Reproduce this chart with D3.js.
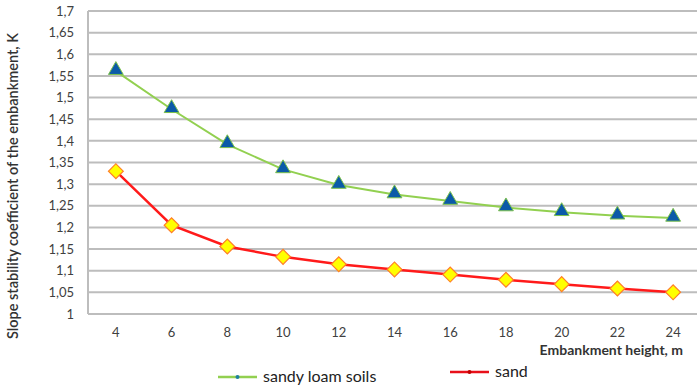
<!DOCTYPE html>
<html>
<head>
<meta charset="utf-8">
<script src="https://cdn.jsdelivr.net/npm/d3@7"></script>
<style>
  body { margin: 0; background: #fff; }
  svg text { font-family: Lato, "Open Sans", sans-serif; }
</style>
</head>
<body>
<svg id="chart" width="697" height="389"></svg>
<script>
// embankment heights, m
const heights = [4, 6, 8, 10, 12, 14, 16, 18, 20, 22, 24];
const sandyLoam = [1.561, 1.473, 1.392, 1.334, 1.298, 1.276, 1.261, 1.246, 1.235, 1.227, 1.222];
const sand = [1.330, 1.205, 1.156, 1.132, 1.115, 1.103, 1.091, 1.079, 1.069, 1.059, 1.050];
const yTicks = [1, 1.05, 1.1, 1.15, 1.2, 1.25, 1.3, 1.35, 1.4, 1.45, 1.5, 1.55, 1.6, 1.65, 1.7];

const svg = d3.select("#chart");
const margin = {top: 11, right: -4, bottom: 75, left: 88};
const width = 697, height = 389;

let x = d3.scaleBand()
    .domain(heights)
    .range([margin.left, width - margin.right]);

let y = d3.scaleLinear()
    .domain([1, 1.7])
    .range([height - margin.bottom, margin.top]);

let fmt = d => String(d).replace(".", ",");

// grid lines
svg.append("g").selectAll("line").data(yTicks).enter().append("line")
    .attr("x1", margin.left)
    .attr("x2", width - margin.right)
    .attr("y1", d => y(d))
    .attr("y2", d => y(d))
    .attr("stroke", "#bdbdbd")
    .attr("stroke-width", 2);

// left axis line
svg.append("line")
    .attr("x1", margin.left).attr("x2", margin.left)
    .attr("y1", y(1.7)).attr("y2", y(1))
    .attr("stroke", "#bdbdbd").attr("stroke-width", 2);

let yAxis = svg.append("g")
    .attr("transform", "translate(" + (margin.left - 14) + ",0)")
    .call(d3.axisLeft(y).tickValues(yTicks).tickFormat(fmt).tickSize(0));
yAxis.select(".domain").remove();
yAxis.selectAll("text")
    .attr("x", 0)
    .attr("fill", "#404040")
    .style("font-size", "13px");

let xAxis = svg.append("g")
    .attr("transform", "translate(0," + y(1) + ")")
    .call(d3.axisBottom(x).tickSize(0));
xAxis.select(".domain").remove();
xAxis.selectAll("text")
    .attr("dy", "1.5em")
    .attr("fill", "#404040")
    .style("font-size", "13px");

// axis titles
svg.append("text")
    .attr("transform", "translate(18,186) rotate(-90)")
    .attr("text-anchor", "middle")
    .style("font-size", "14.5px")
    .style("font-weight", "600")
    .attr("fill", "#333")
    .text("Slope stability coefficient of the embankment, K");

svg.append("text")
    .attr("x", 683)
    .attr("y", 355)
    .attr("text-anchor", "end")
    .style("font-size", "14px")
    .style("font-weight", "bold")
    .attr("fill", "#333")
    .text("Embankment height, m");

let cx = d => x(d) + x.bandwidth() / 2;

let line = d3.line()
    .x((d, i) => cx(heights[i]))
    .y(d => y(d));

// sandy loam series
svg.append("path")
    .attr("d", line(sandyLoam))
    .attr("fill", "none")
    .attr("stroke", "#92d050")
    .attr("stroke-width", 2);

// sand series
svg.append("path")
    .attr("d", line(sand))
    .attr("fill", "none")
    .attr("stroke", "#ff1a1a")
    .attr("stroke-width", 2.5);

let tri = d3.symbol().type(d3.symbolTriangle).size(95);
svg.append("g").selectAll("path").data(sandyLoam).enter().append("path")
    .attr("d", tri)
    .attr("transform", (d, i) => "translate(" + cx(heights[i]) + "," + (y(d) - 1) + ")")
    .attr("fill", "#0b5aa8")
    .attr("stroke", "#7cc14a")
    .attr("stroke-width", 1);

let dia = d3.symbol().type(d3.symbolSquare).size(110);
svg.append("g").selectAll("path").data(sand).enter().append("path")
    .attr("d", dia)
    .attr("transform", (d, i) => "translate(" + cx(heights[i]) + "," + y(d) + ") rotate(45)")
    .attr("fill", "#ffff00")
    .attr("stroke", "#ff7f27")
    .attr("stroke-width", 1.2);

// legend
let legend = [
    {name: "sandy loam soils", color: "#92d050", dot: "#1e7fa0", x: 218, y: 377},
    {name: "sand", color: "#e8101a", dot: "#c00000", x: 450, y: 372}
];
let lg = svg.append("g").selectAll("g").data(legend).enter().append("g")
    .attr("transform", d => "translate(" + d.x + "," + d.y + ")");
lg.append("line")
    .attr("x1", 0).attr("x2", 39)
    .attr("stroke", d => d.color).attr("stroke-width", 2.5);
lg.append("circle")
    .attr("cx", 19.5).attr("r", 2)
    .attr("fill", d => d.dot);
lg.append("text")
    .attr("x", 45)
    .attr("dy", "0.3em")
    .style("font-size", "16px")
    .attr("fill", "#222")
    .text(d => d.name);
</script>
</body>
</html>
